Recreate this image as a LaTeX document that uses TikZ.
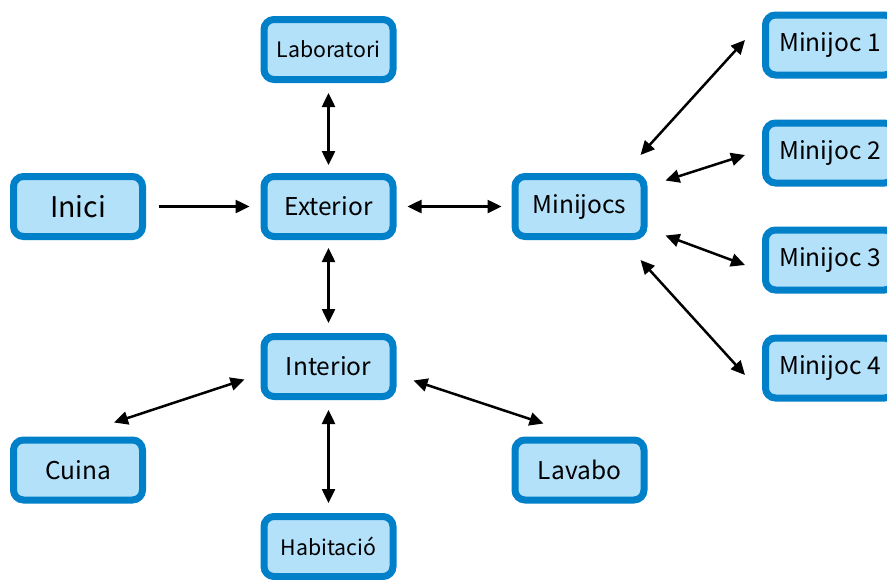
\documentclass[tikz,border=0pt]{standalone}
\usepackage{fontspec}
\setmainfont{Noto Sans CJK JP}
\usetikzlibrary{arrows.meta,calc}
\definecolor{boxblue}{HTML}{0080C8}
\definecolor{boxfill}{HTML}{B4E1FA}
\begin{document}
\begin{tikzpicture}[x=1pt,y=-1pt,
  box/.style={draw=boxblue,fill=boxfill,line width=7pt,rounded corners=10pt,
    minimum width=129pt,minimum height=60pt,inner sep=0pt,text=black},
  big/.style={font=\fontsize{28.5}{30}\selectfont},
  mid/.style={font=\fontsize{24.5}{26}\selectfont},
  small/.style={font=\fontsize{21.3}{23}\selectfont},
  conn/.style={line width=2.5pt,-{Triangle[length=14pt,width=13pt]}},
  biconn/.style={line width=2.5pt,{Triangle[length=14pt,width=13pt]}-{Triangle[length=14pt,width=13pt]}}]
\useasboundingbox (0,0) rectangle (887,579);
\node[box,big] (inici) at (78,206.5) {Inici};
\node[box,mid] (ext) at (328.5,206.5) {Exterior};
\node[box,small] (lab) at (328.5,49.5) {Laboratori};
\node[box,mid] (int) at (328.5,366.5) {Interior};
\node[box,mid] (cuina) at (78,470) {Cuina};
\node[box,mid] (lavabo) at (579.5,470) {Lavabo};
\node[box,small] (hab) at (328.5,546.5) {Habitació};
\node[box,mid] (mjs) at (579.5,206.5) {Minijocs};
\node[box,mid] (m1) at (830,45) {Minijoc 1};
\node[box,mid] (m2) at (830,153) {Minijoc 2};
\node[box,mid] (m3) at (830,260) {Minijoc 3};
\node[box,mid] (m4) at (830,368) {Minijoc 4};
\draw[conn] ($(inici.east)+(13,0)$) -- ($(ext.west)+(-11,0)$);
\draw[biconn] ($(lab.south)+(0,10)$) -- ($(ext.north)+(0,-8)$);
\draw[biconn] ($(ext.east)+(11,0)$) -- ($(mjs.west)+(-10,0)$);
\draw[biconn] ($(ext.south)+(0,8)$) -- ($(int.north)+(0,-10)$);
\draw[biconn] ($(int.west)+(-16,13)$) -- ($(cuina.north)+(36,-14)$);
\draw[biconn] ($(int.east)+(17,14)$) -- ($(lavabo.north)+(-36,-13)$);
\draw[biconn] ($(int.south)+(0,10)$) -- ($(hab.north)+(0,-10)$);
\draw[biconn] ($(mjs.north east)+(-7,-18)$) -- ($(m1.west)+(-17,-5)$);
\draw[biconn] ($(mjs.east)+(18,-26)$) -- ($(m2.west)+(-17,2)$);
\draw[biconn] ($(mjs.east)+(18,29)$) -- ($(m3.west)+(-17,5)$);
\draw[biconn] ($(mjs.south east)+(-7,20)$) -- ($(m4.west)+(-17,7)$);
\end{tikzpicture}
\end{document}
